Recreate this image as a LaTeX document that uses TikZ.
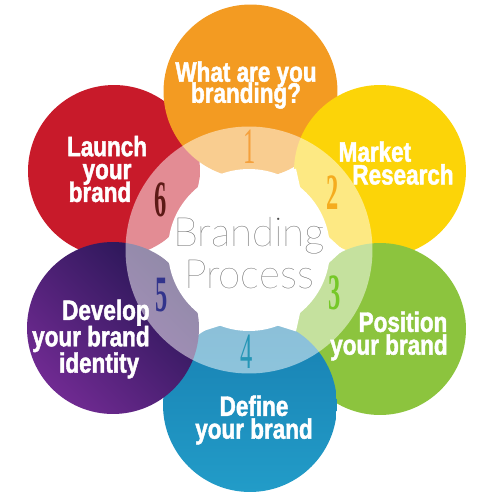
\documentclass[tikz,border=0pt]{standalone}
\usepackage{fontspec}
\setmainfont{Liberation Sans}
\newfontfamily\petalfont[FakeStretch=0.8, FakeBold=1.6]{Liberation Sans}
\newfontfamily\stepfont[FakeStretch=0.48]{Liberation Serif}
\newfontfamily\hubfont{Lato Hairline}
\usepackage{tikz}
\definecolor{petalred}{RGB}{200,26,42}
\definecolor{petalorange}{RGB}{243,155,34}
\definecolor{petalyellow}{RGB}{252,212,8}
\definecolor{petalgreen}{RGB}{140,196,62}
\definecolor{petalblue}{RGB}{24,128,178}
\definecolor{petalbluelt}{RGB}{34,156,200}
\definecolor{petalpurple}{RGB}{38,22,84}
\definecolor{petalpurplelt}{RGB}{112,42,146}
\definecolor{numone}{RGB}{245,160,60}
\definecolor{numtwo}{RGB}{245,172,30}
\definecolor{numthree}{RGB}{118,200,40}
\definecolor{numfour}{RGB}{38,150,182}
\definecolor{numfive}{RGB}{50,52,140}
\definecolor{numsix}{RGB}{92,26,22}

\begin{document}
\lineskiplimit=-20pt
\begin{tikzpicture}[
    x=0.02cm, y=-0.02cm,
    petal/.style={draw=none},
    ringfill/.style={fill=white, fill opacity=0.5},
    lbl/.style={font=\petalfont\bfseries\fontsize{16}{13}\selectfont,
                text=white, align=center, inner sep=0pt},
    num/.style={font=\stepfont\fontsize{29}{29}\selectfont, inner sep=0pt},
    numb/.style={font=\stepfont\bfseries\fontsize{29}{29}\selectfont, inner sep=0pt},
    hub/.style={font=\hubfont\fontsize{23}{24}\selectfont, text=black!70,
                align=center, inner sep=0pt},
  ]
    \useasboundingbox (0,0) rectangle (495,504);

    \coordinate (c0) at (249,250);
    \coordinate (c1) at (250.5,91.5);
    \coordinate (c2) at (380,171);
    \coordinate (c3) at (380,329);
    \coordinate (c4) at (250,405);
    \coordinate (c5) at (113,328);
    \coordinate (c6) at (114,171);

    \fill[petal, petalred]    (c6) circle[radius=1.72cm];
    \fill[petal, petalorange] (c1) circle[radius=1.74cm];
    \fill[petal, petalyellow] (c2) circle[radius=1.72cm];
    \fill[petal, petalgreen]  (c3) circle[radius=1.72cm];
    \shade[petal, top color=petalblue, bottom color=petalbluelt]
      (c4) circle[radius=1.74cm];
    \shade[petal, top color=petalpurple, bottom color=petalpurplelt, shading angle=-45]
      (c5) circle[radius=1.72cm];

    \fill[ringfill] (c0) circle[radius=2.47cm];
    \begin{scope}[shift={(c0)}]
      \fill[white] (0,0) circle[radius=1.62cm];
      \foreach \a in {0,60,...,300}
        \fill[white] (\a-11:1.58cm) -- (\a:1.88cm) -- (\a+11:1.58cm) -- cycle;
    \end{scope}

    \node[num, text=numone]    (n1) at (250,147) {1};
    \node[numb, text=numtwo]   (n2) at (333,193) {2};
    \node[numb, text=numthree] (n3) at (335,293) {3};
    \node[num, text=numfour]   (n4) at (247,352) {4};
    \node[numb, text=numfive]  (n5) at (162,295) {5};
    \node[numb, text=numsix]   (n6) at (161,200) {6};

    \node[lbl] (t1) at (246,85)  {What are you\\[-1pt]branding?};
    \node[lbl] (t2) at (403,163) {Market\hspace*{32pt}\\Research};
    \node[lbl] (t3) at (403,336) {Position\\your brand\hspace*{16pt}};
    \node[lbl] (t4) at (254,420) {Define\\your brand};
    \node[lbl, align=right, anchor=east] (t5) at (150,339)
      {Develop\\[2pt]your brand\\[2pt]identity\hspace*{6pt}};
    \node[lbl] (t6) at (107,169) {Launch\\your\\brand\hspace*{8pt}};

    \node[hub] (hb) at (249,253) {Branding\\Process};
  \end{tikzpicture}
\end{document}
